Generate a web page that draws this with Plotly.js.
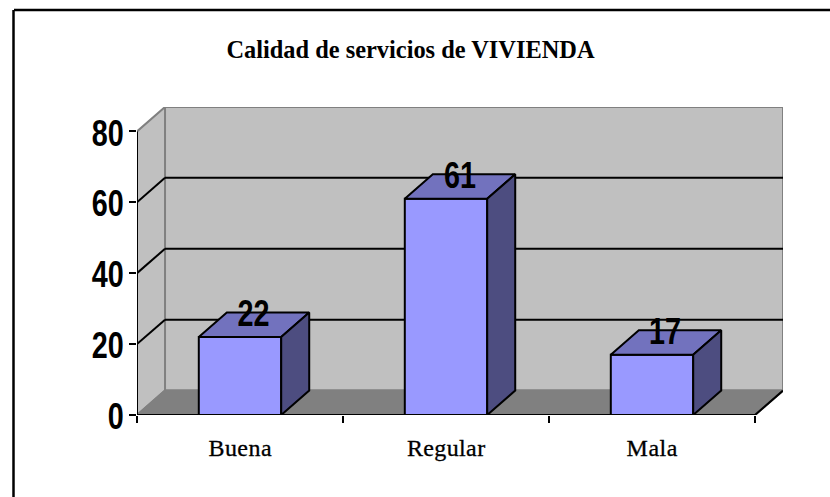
<!DOCTYPE html>
<html>
<head>
<meta charset="utf-8">
<script src="https://cdn.plot.ly/plotly-3.0.1.min.js"></script>
<style>html,body{margin:0;padding:0;background:#fff;overflow:hidden}</style>
</head>
<body>
<div id="chart" style="width:830px;height:497px"></div>
<script>
var categories = ["Buena", "Regular", "Mala"];
var values = [22, 61, 17];
var yTicks = [0, 20, 40, 60, 80];
var categoryEdges = [-0.5, 0.5, 1.5, 2.5];

var depthX = 0.136, depthY = 6.9, halfBar = 0.2;
var colFront = "#9999FF", colTop = "#7272BE", colSide = "#4D4D80";
var serif = "Liberation Serif, Times New Roman, serif";
var sans = "Liberation Sans, Arial, sans-serif";
var W = 830, H = 497, mL = 137, mR = 47, mT = 107, mB = 82;
var xMin = categoryEdges[0], xFront = categoryEdges[3], yMax = yTicks[4];

function face(xs, ys, color) {
  return {type:"scatter", mode:"lines", x:xs, y:ys, fill:"toself", fillcolor:color,
    line:{color:"#000", width:2}, hoverinfo:"skip", cliponaxis:false, showlegend:false};
}
function stroke(xs, ys) {
  return {type:"scatter", mode:"lines", x:xs, y:ys, line:{color:"#000", width:2},
    hoverinfo:"skip", cliponaxis:false, showlegend:false};
}
function poly(pts, fill) {
  var d = pts.map(function(p,i){return (i?"L":"M")+p[0]+","+p[1];}).join(" ")+" Z";
  return {type:"path", path:d, xref:"x", yref:"y", fillcolor:fill, line:{color:"#808080", width:2}, layer:"below"};
}
function seg(x0,y0,x1,y1,color) {
  return {type:"line", x0:x0,y0:y0,x1:x1,y1:y1,xref:"x",yref:"y",line:{color:color,width:2},layer:"below"};
}
function px(p){return (p-mL)/(W-mL-mR);}
function py(p){return 1-(p-mT)/(H-mT-mB);}

var shapes = [
  poly([[xMin+depthX,0+depthY],[xFront+depthX,depthY],[xFront+depthX,yMax+depthY],[xMin+depthX,yMax+depthY]], "#C0C0C0"),
  poly([[xMin,0],[xMin+depthX,depthY],[xMin+depthX,yMax+depthY],[xMin,yMax]], "#C0C0C0"),
  poly([[xMin,0],[xFront,0],[xFront+depthX,depthY],[xMin+depthX,depthY]], "#808080")
];
yTicks.slice(1,4).forEach(function(t){
  shapes.push(seg(xMin+depthX,t+depthY,xFront+depthX,t+depthY,"#000"));
  shapes.push(seg(xMin,t,xMin+depthX,t+depthY,"#000"));
});
shapes.push({type:"line", xref:"paper", yref:"paper", x0:px(14), x1:px(830), y0:py(10), y1:py(10), line:{color:"#000",width:2.5}});
shapes.push({type:"line", xref:"paper", yref:"paper", x0:px(13.5), x1:px(13.5), y0:py(10), y1:py(497), line:{color:"#000",width:2.5}});

var traces = [{
  type:"bar", x:[0,1,2], y:values, width:halfBar*2,
  marker:{color:colFront, line:{color:"#000", width:2}}, hoverinfo:"x+y", showlegend:false
}];
values.forEach(function(v,i){
  var l=i-halfBar, r=i+halfBar;
  traces.push(face([l,r,r+depthX,l+depthX,l],[v,v,v+depthY,v+depthY,v],colTop));
  traces.push(face([r,r+depthX,r+depthX,r,r],[0,depthY,v+depthY,v,0],colSide));
});
traces.push(stroke([xMin,xFront],[0,0]));
traces.push(stroke([xMin,xMin],[0,yMax]));
traces.push(stroke([xFront,xFront+depthX],[0,depthY]));
traces.push({
  type:"scatter", mode:"text", x:[0.065,1.068,2.063],
  y:values.map(function(v){return v+5.7;}), text:values.map(String),
  textposition:"middle center", textfont:{family:sans, size:36, color:"#000", weight:"bold"},
  hoverinfo:"skip", cliponaxis:false, showlegend:false
});

var layout = {
  width:W, height:H, margin:{l:mL,r:mR,t:mT,b:mB,pad:0},
  paper_bgcolor:"#fff", plot_bgcolor:"#fff", showlegend:false, barmode:"overlay",
  title:{text:"<b>Calidad de servicios de VIVIENDA</b>", x:410.5/830, xanchor:"center", y:1-49/497, yanchor:"middle",
         font:{family:serif, size:24.4, color:"#000"}},
  xaxis:{range:[xMin, xMin+(W-mL-mR)/206], tickmode:"array", tickvals:[0,1,2], ticktext:categories,
    showgrid:false, zeroline:false, showline:false, ticks:"", ticklabelstandoff:16,
    tickfont:{family:serif, size:24, color:"#000"},
    minor:{tickmode:"array", tickvals:categoryEdges, ticks:"outside", ticklen:7, tickwidth:2, tickcolor:"#000", showgrid:false}},
  yaxis:{range:[0,(H-mT-mB)/3.545], tickmode:"array", tickvals:yTicks, showgrid:false, zeroline:false, showline:false,
    ticks:"outside", ticklen:7, tickwidth:2, tickcolor:"#000", ticklabelstandoff:-2,
    tickfont:{family:sans, size:36, color:"#000", weight:"bold"}},
  shapes:shapes
};
function condense() {
  document.querySelectorAll("#chart .ytick text, #chart .textpoint text").forEach(function(t){
    t.setAttribute("textLength", t.textContent.length*16);
    t.setAttribute("lengthAdjust", "spacingAndGlyphs");
  });
  document.querySelectorAll("#chart .ytick text").forEach(function(t){
    t.setAttribute("dy", "1.5");
  });
  document.querySelectorAll("#chart .xtick text").forEach(function(t){
    t.setAttribute("textLength", t.getComputedTextLength()*1.03);
    t.setAttribute("lengthAdjust", "spacing");
    t.style.stroke = "#000";
    t.style.strokeWidth = "0.3px";
  });
}
Plotly.newPlot("chart", traces, layout, {displayModeBar:false, staticPlot:true}).then(condense);
</script>
</body>
</html>
